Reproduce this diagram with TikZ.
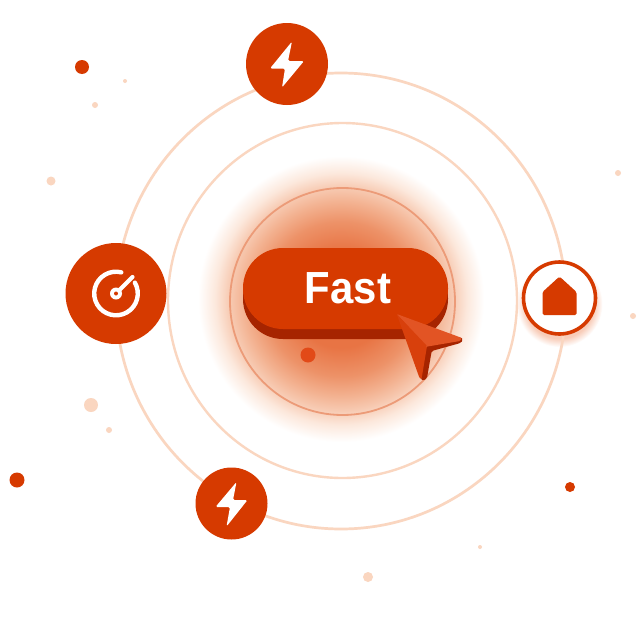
\documentclass[tikz,border=0pt]{standalone}
\usepackage{fontspec}
\newfontfamily\fastfont{Liberation Sans}
\definecolor{brand}{RGB}{214,58,0}
\definecolor{branddark}{RGB}{166,36,0}
\definecolor{cursorlight}{RGB}{226,84,36}
\definecolor{cursormid}{RGB}{216,64,12}
\definecolor{ringlight}{RGB}{250,214,192}
\definecolor{ringinner}{RGB}{236,155,120}
\definecolor{dotlight}{RGB}{250,214,192}
\definecolor{dotmid}{RGB}{226,74,24}
\definecolor{ga}{RGB}{232,116,68}
\definecolor{gb}{RGB}{237,146,104}
\definecolor{gc}{RGB}{243,178,145}
\definecolor{gd}{RGB}{247,202,178}
\definecolor{ge}{RGB}{252,232,220}
\definecolor{ha}{RGB}{248,204,184}
\pgfdeclareradialshading{glowshade}{\pgfpoint{0bp}{0bp}}{
 color(0bp)=(ga);
 color(8.5bp)=(ga);
 color(13.5bp)=(gb);
 color(17bp)=(gc);
 color(19.5bp)=(gd);
 color(22bp)=(ge);
 color(25bp)=(white);
 color(50bp)=(white)}
\pgfdeclareradialshading{haloshade}{\pgfpoint{0bp}{0bp}}{
 color(0bp)=(ha);
 color(20bp)=(ha);
 color(25bp)=(white);
 color(50bp)=(white)}
\tikzset{
 x=1pt,y=-1pt,
 ring/.style={draw=ringlight,line width=2.7pt},
 badge/.style={circle,fill=brand,inner sep=0pt,outer sep=0pt},
 speck/.style={circle,fill=dotlight,inner sep=0pt},
 reddot/.style={circle,fill=brand,inner sep=0pt},
 glyph/.style={fill=white,rounded corners=1.5pt},
}
\begin{document}
\begin{tikzpicture}
\useasboundingbox (0,0) rectangle (640,640);
\fill[white] (0,0) rectangle (640,640);
% glow
\shade[shading=glowshade] (341,299) circle (143);
\shade[shading=haloshade] (559.5,304) circle (43);
% rings
\draw[ring] (341,301) ellipse [x radius=225,y radius=228];
\draw[ring,line width=2.4pt] (342.5,300.5) ellipse [x radius=174.5,y radius=177.5];
\draw[draw=ringinner,line width=1.8pt] (342.5,301.5) ellipse [x radius=112.5,y radius=113.5];
% specks
\node[reddot,minimum size=14pt] (d1) at (82,67) {};
\node[speck,minimum size=4pt] (d2) at (125,81) {};
\node[speck,minimum size=6pt] (d3) at (95,105) {};
\node[speck,minimum size=9pt] (d4) at (51,181) {};
\node[speck,minimum size=6pt] (d5) at (618,173) {};
\node[speck,minimum size=6pt] (d6) at (633,316) {};
\node[speck,minimum size=14pt] (d7) at (91,405) {};
\node[speck,minimum size=6pt] (d8) at (109,430) {};
\node[reddot,minimum size=15pt] (d9) at (17,480) {};
\node[reddot,minimum size=10pt] (d10) at (570,487) {};
\node[speck,minimum size=4pt] (d11) at (480,547) {};
\node[speck,minimum size=10pt] (d12) at (368,577) {};
\node[circle,fill=dotmid,inner sep=0pt,minimum size=15pt] (d13) at (308,355) {};
% button
\fill[branddark,rounded corners=40pt] (243,258) rectangle (448,339);
\fill[brand,rounded corners=40pt] (243,248) rectangle (448,329);
\node[text=white,inner sep=0pt,font=\fastfont\bfseries\fontsize{45}{45}\selectfont] (fast) at (348,288) {\scalebox{.93}[1]{Fast}};
% cursor
\fill[branddark,rounded corners=1.5pt] (426,346.5) -- (461,337) -- (463,340) -- (460.5,343) -- (431.7,351) -- (427,378) -- (423,381) -- (420.5,378) -- cycle;
\fill[cursorlight,rounded corners=1pt] (396.7,314) -- (462,338) -- (460,341) -- (426.5,346.7) -- cycle;
\fill[cursormid,rounded corners=1pt] (396.7,314) -- (427,346) -- (421.5,379) -- (419.5,378) -- cycle;
% top bolt
\node[badge,minimum size=82pt] (top) at (287,64) {};
\fill[glyph] ([shift={(5,-22.5)}]top.center) -- ([shift={(-17,4.5)}]top.center) -- ([shift={(-2,4.5)}]top.center) -- ([shift={(-5,23.5)}]top.center) -- ([shift={(17,-3)}]top.center) -- ([shift={(1,-3)}]top.center) -- cycle;
% bottom bolt
\node[badge,minimum size=72pt] (bot) at (231.5,503.5) {};
\fill[glyph] ([shift={(5,-21.5)}]bot.center) -- ([shift={(-16,3.5)}]bot.center) -- ([shift={(-1.5,3.5)}]bot.center) -- ([shift={(-5,23)}]bot.center) -- ([shift={(16,-3.5)}]bot.center) -- ([shift={(1.5,-3.5)}]bot.center) -- cycle;
% gauge
\node[badge,minimum size=101pt] (gauge) at (116,293.5) {};
\draw[white,line width=4.4pt,line cap=round] (gauge.center) ++(-30:21.8) arc[start angle=-30,end angle=284,radius=21.8];
\coordinate (needle) at (132.5,277);
\draw[white,line width=4.2pt,line cap=round] (gauge.center) -- (needle);
\fill[white] (gauge.center) circle (6);
\fill[brand] (gauge.center) circle (2);
% home
\node[circle,draw=brand,line width=3.6pt,fill=white,inner sep=0pt,minimum size=72pt] (home) at (559.5,298) {};
\fill[brand,rounded corners=1.5pt] ([shift={(0,-21.5)}]home.center) -- ([shift={(17,-6)}]home.center) -- ([shift={(17,17)}]home.center) -- ([shift={(-17,17)}]home.center) -- ([shift={(-17,-6)}]home.center) -- cycle;
\end{tikzpicture}
\end{document}
